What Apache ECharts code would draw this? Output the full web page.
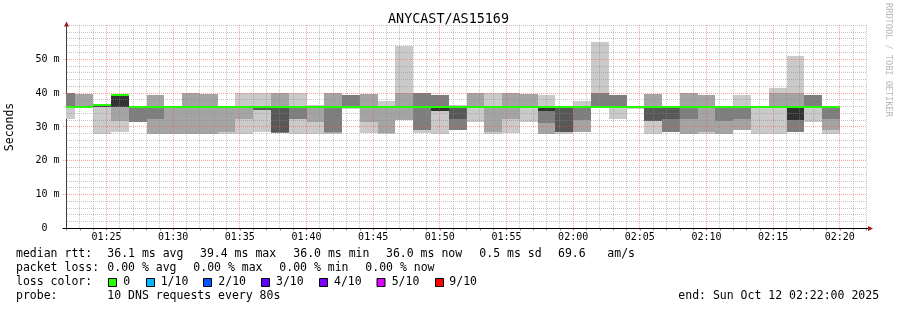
<!DOCTYPE html>
<html>
<head>
<meta charset="utf-8">
<script src="https://cdn.jsdelivr.net/npm/echarts@6/dist/echarts.min.js"></script>
<style>html,body{margin:0;padding:0;background:#fff}#c{width:897px;height:310px}</style>
</head>
<body>
<div id="c"></div>
<script>
// ---------------- data ----------------
const chartTitle = 'ANYCAST/AS15169';
const startTime = '01:22:00';
const endTime = '02:22:00';
const stepSeconds = 80;
const barEnd = ['01:22:40','01:24:00','01:25:20','01:26:40','01:28:00','01:29:20','01:30:40','01:32:00','01:33:20','01:34:40',
  '01:36:00','01:37:20','01:38:40','01:40:00','01:41:20','01:42:40','01:44:00','01:45:20','01:46:40','01:48:00',
  '01:49:20','01:50:40','01:52:00','01:53:20','01:54:40','01:56:00','01:57:20','01:58:40','02:00:00','02:01:20',
  '02:02:40','02:04:00','02:05:20','02:06:40','02:08:00','02:09:20','02:10:40','02:12:00','02:13:20','02:14:40',
  '02:16:00','02:17:20','02:18:40','02:20:00'];
// sorted ping rtts (ms) per step, rank 1 = fastest ... rank 10 = slowest
const rank1 = [32.4,36,27.9,28.6,31.6,27.9,27.9,27.9,27.9,27.9,27.9,28.6,28.1,27.9,27.9,27.9,35.2,28.1,28.0,32,28.1,27.9,29.1,31.5,27.9,28.1,31.5,27.9,28.0,28.6,36,32.3,35.4,27.9,28.6,27.9,27.9,27.9,29.1,27.9,27.9,28.6,31.5,27.9];
const rank2 = [36,36,36,31.9,31.6,27.9,27.9,27.9,27.9,28.6,32.4,35.1,28.1,32.4,31.5,28.1,36,31.5,28.3,32,29.1,34.8,29.1,36,28.6,32.3,36,27.9,28.4,28.6,36,36,36,31.9,28.6,27.9,28.6,27.9,29.1,36,35.5,28.6,35.5,29.1];
const rank3 = [36,36,36,36,31.6,32.4,36,36,36,36,36,35.1,28.2,32.4,36,28.6,36,36,36,36,29.1,34.8,29.1,36,36,36,36,31.2,28.4,32,36,36,36,31.9,28.6,32.3,36,31.9,32.3,36,35.5,28.6,36,32.3];
const rank4 = [36,36,36,36,36,36,36,36,36,36,36,35.1,28.4,36,36,36,36,36,36,36,36,34.8,32.3,36,36,36,36,34.8,28.4,36,36,36,36,31.9,32.4,36,36,36,36,36,35.5,32,36,36];
const rank5 = [36,36,36,36,36,36,36,36,36,36,36,36,36,36,36,36,36,36,36,36,36,34.8,36,36,36,36,36,34.8,36,36,36,36,36,36,36,36,36,36,36,36,35.5,32,36,36];
const rank6 = [36,36,36.6,39.6,36,36,36,36,36,36,36,36,36,36,36,36,36,36,36,36,36,36,36,36,36,36,36,36,36,36,36,36,36,36,36,36,36,36,36,36,36,36,36,36];
const rank7 = [36,36,36.6,39.6,36,36,36,36,36,36,36,36,36,36,36,36,36,36,36,36,36,36,36,36,36,36,36,36,36,36,36,36,36,36,36.3,36,36,36,36,36,36,36,36,36];
const rank8 = [40,36,36.6,39.6,36,36,36,36,36,36,36,36,36,36,36,36,39.4,36,36,36,40,39.4,36,36,36,36,36,36,36,36,40,39.4,36,36,36.3,36,36,36,36,36,36,36,39.4,36];
const rank9 = [40,39.7,36.6,39.6,36,39.4,36,40,39.7,36,36,36,40,36,36,40,39.4,39.7,36,40,40,39.4,36,40,36,40,39.7,36,36,36,40,39.4,36,39.7,36.3,40,39.4,36,36,36,40,40,39.4,36];
const rank10 = [40,39.7,36.6,39.6,36,39.4,36,40,39.7,36,40,40,40,40,36.5,40,39.4,39.7,37.8,54,40,39.4,36.5,40,40,40,39.7,39.4,36,37.6,55.1,39.4,36,39.7,36.3,40,39.4,36,39.4,36,41.6,51.1,39.4,36];
const median = [36,36,36.6,39.4,36,36,36,36,36,36,36,36,36,36,36,36,36,36,36,36,36,36,36,36,36,36,36,36,36,36,36,36,36,36,36,36,36,36,36,36,36,36,36,36];
// tick labels
const xTickLabels = ['01:25','01:30','01:35','01:40','01:45','01:50','01:55','02:00','02:05','02:10','02:15','02:20'];
const yTickValues = [0,10,20,30,40,50];
const yTickLabels = ['0  ','10 m','20 m','30 m','40 m','50 m'];
// legend texts
const rttHeader = 'median rtt:';
const rttStats = ['36.1 ms avg','39.4 ms max','36.0 ms min','36.0 ms now','0.5 ms sd','69.6','am/s'];
const lossHeader = 'packet loss:';
const lossStats = ['0.00 % avg','0.00 % max','0.00 % min','0.00 % now'];
const colorHeader = 'loss color:';
const lossLabels = ['0','1/10','2/10','3/10','4/10','5/10','9/10'];
const lossColors = ['#26ff00','#00b8ff','#0059ff','#5e00ff','#7e00ff','#dd00ff','#ff0000'];
const probeHeader = 'probe:';
const probeText = '10 DNS requests every 80s';
const endText = 'end: Sun Oct 12 02:22:00 2025';
const yAxisTitle = 'Seconds';
const watermark = 'RRDTOOL / TOBI OETIKER';

// ---------------- build ----------------
const FONT = '"DejaVu Sans Mono", monospace';
const smokeColors = ['#cacaca','#a4a4a4','#7e7e7e','#585858','#323232'];
const toMin = s => { const p = s.split(':').map(Number); return p[0]*60 + p[1] + (p[2]||0)/60; };
const stepMin = stepSeconds / 60;
const ranks = [rank1,rank2,rank3,rank4,rank5,rank6,rank7,rank8,rank9,rank10];
const smokeData = barEnd.map((t,i) => [toMin(t)].concat(ranks.map(r => r[i])));
const medianData = barEnd.map((t,i) => [toMin(t), median[i]]);
const xMin = toMin(startTime), xMax = toMin(endTime);
const yMin = 0, yMax = 60;
const pad2 = n => (n < 10 ? '0' : '') + n;
const fmtMin = v => pad2(Math.floor(Math.round(v)/60)) + ':' + pad2(Math.round(v) % 60);

const MAJOR = 'rgba(255,70,70,0.5)';
const MINOR = 'rgba(140,140,140,0.5)';

function renderSmoke(params, api) {
  const t1 = api.value(0), t0 = t1 - stepMin;
  const children = [];
  for (let b = 0; b < 5; b++) {
    const lo = api.value(1 + b), hi = api.value(10 - b);
    if (!(hi > lo)) continue;
    const a = api.coord([t0, hi]), c = api.coord([t1, lo]);
    const x0 = Math.round(a[0]), x1 = Math.round(c[0]);
    const y0 = Math.round(a[1]), y1 = Math.round(c[1]);
    if (y1 - y0 <= 0) continue;
    children.push({type: 'rect', shape: {x: x0, y: y0, width: x1 - x0, height: y1 - y0}, style: {fill: smokeColors[b]}});
  }
  return {type: 'group', children};
}
function renderMedian(params, api) {
  const t1 = api.value(0), t0 = t1 - stepMin;
  const a = api.coord([t0, api.value(1)]), c = api.coord([t1, api.value(1)]);
  const x0 = Math.round(a[0]), x1 = Math.round(c[0]), y = Math.round(a[1]);
  return {type: 'rect', shape: {x: x0, y: y - 1, width: x1 - x0, height: 2}, style: {fill: lossColors[0]}};
}

const chart = echarts.init(document.getElementById('c'), null, {renderer: 'canvas'});
const option = {
  animation: false,
  backgroundColor: '#fff',
  title: {text: chartTitle, left: 'center', top: 12, padding: 0,
    textStyle: {fontFamily: FONT, fontSize: 13.4, fontWeight: 'normal', color: '#000', lineHeight: 15}},
  grid: {left: 66.5, top: 25.4, width: 800, height: 203.1, containLabel: false},
  xAxis: {
    type: 'value', min: xMin, max: xMax, interval: 1,
    axisLine: {show: true, lineStyle: {color: '#000', width: 1}},
    axisTick: {show: true, length: 2, lineStyle: {color: '#888'}},
    axisLabel: {margin: 4, fontFamily: FONT, fontSize: 10, lineHeight: 10, color: '#000',
      formatter: v => { const s = fmtMin(v); return xTickLabels.indexOf(s) >= 0 ? s : ''; }},
    splitLine: {show: false}
  },
  yAxis: {
    type: 'value', min: yMin, max: yMax, interval: 2,
    axisLine: {show: true, lineStyle: {color: '#404040', width: 1}},
    axisTick: {show: false},
    axisLabel: {margin: 7, fontFamily: FONT, fontSize: 10, color: '#000',
      formatter: v => { const k = yTickValues.indexOf(Math.round(v)); return k >= 0 ? yTickLabels[k] : ''; }},
    splitLine: {show: false}
  },
  series: [
    {type: 'custom', name: 'smoke', renderItem: renderSmoke, data: smokeData, clip: true, z: 2,
     encode: {x: 0, y: [1,2,3,4,5,6,7,8,9,10]}, silent: true},
    {type: 'custom', name: 'median', renderItem: renderMedian, data: medianData, clip: true, z: 10,
     encode: {x: 0, y: 1}, silent: true}
  ]
};
chart.setOption(option);

// ---------------- grid, texts & decorations ----------------
const px = (x, y) => chart.convertToPixel({gridIndex: 0}, [x, y]);
const origin = px(xMin, yMin);
const topLeft = px(xMin, yMax);
const rightEnd = px(xMax, yMin);
const snap = v => Math.floor(v) + 0.5;
const g = [];
// dotted grid drawn over the smoke (as rrdtool does)
for (let m = Math.round(xMin) + 1; m <= Math.round(xMax); m++) {
  const x = snap(px(m, 0)[0]);
  const major = xTickLabels.indexOf(fmtMin(m)) >= 0;
  g.push({type: 'line', silent: true, z: 5,
    shape: {x1: x, y1: Math.floor(topLeft[1]), x2: x, y2: Math.floor(origin[1]) + (major ? 3 : 0)},
    style: {stroke: major ? MAJOR : MINOR, lineWidth: 1, lineDash: [1, 1]}});
}
for (let v = yMin + 2; v <= yMax; v += 2) {
  const y = snap(px(xMin, v)[1]);
  const major = yTickValues.indexOf(v) >= 0;
  g.push({type: 'line', silent: true, z: 5,
    shape: {x1: Math.floor(origin[0]) + 1 - (major ? 4 : 0), y1: y, x2: Math.ceil(rightEnd[0]), y2: y},
    style: {stroke: major ? MAJOR : MINOR, lineWidth: 1, lineDash: [1, 1]}});
}
const T = (text, x, y) => ({type: 'text', x, y, silent: true,
  style: {text, font: '11.5px ' + FONT, fill: '#000', align: 'left', verticalAlign: 'middle'}});
const L1 = 254, L2 = 268.3, L3 = 282.5, L4 = 296.3;
g.push(T(rttHeader, 16, L1));
[107.3, 200, 293.3, 386, 479.3, 558, 607.3].forEach((x, i) => g.push(T(rttStats[i], x, L1)));
g.push(T(lossHeader, 16, L2));
[107.3, 193.3, 279.3, 365.3].forEach((x, i) => g.push(T(lossStats[i], x, L2)));
g.push(T(colorHeader, 16, L3));
const boxX = [108.5, 146.5, 203.5, 261.5, 319.5, 377, 435.5];
const labX = [123.3, 160.7, 218.3, 276, 334, 391.7, 449.3];
lossLabels.forEach((lab, i) => {
  g.push({type: 'rect', silent: true, shape: {x: boxX[i], y: L3 - 4, width: 8, height: 8},
    style: {fill: lossColors[i], stroke: '#000', lineWidth: 1}});
  g.push(T(lab, labX[i], L3));
});
g.push(T(probeHeader, 16, L4));
g.push(T(probeText, 107.3, L4));
g.push(T(endText, 678.3, L4));
g.push({type: 'text', x: 10.5, y: (origin[1] + topLeft[1]) / 2, rotation: Math.PI / 2, silent: true,
  style: {text: yAxisTitle, font: '11.5px ' + FONT, fill: '#000', align: 'center', verticalAlign: 'middle'}});
g.push({type: 'text', x: 888, y: 60, rotation: -Math.PI / 2, silent: true,
  style: {text: watermark, font: '8.6px ' + FONT, fill: '#b8b8b8', align: 'center', verticalAlign: 'middle'}});
const AR = '#a01818';
g.push({type: 'line', silent: true, z: 99,
  shape: {x1: origin[0], y1: topLeft[1] + 1, x2: origin[0], y2: topLeft[1] - 1}, style: {stroke: '#404040', lineWidth: 1}});
g.push({type: 'polygon', silent: true, z: 100,
  shape: {points: [[origin[0], topLeft[1] - 4], [origin[0] - 2.5, topLeft[1] + 1], [origin[0] + 2.5, topLeft[1] + 1]]}, style: {fill: AR}});
g.push({type: 'line', silent: true, z: 99,
  shape: {x1: origin[0] - 4, y1: origin[1], x2: rightEnd[0] + 2, y2: origin[1]}, style: {stroke: '#000', lineWidth: 1}});
g.push({type: 'polygon', silent: true, z: 100,
  shape: {points: [[rightEnd[0] + 6.5, origin[1]], [rightEnd[0] + 1.5, origin[1] - 2.5], [rightEnd[0] + 1.5, origin[1] + 2.5]]}, style: {fill: AR}});
chart.setOption({graphic: {elements: g}});
</script>
</body>
</html>
